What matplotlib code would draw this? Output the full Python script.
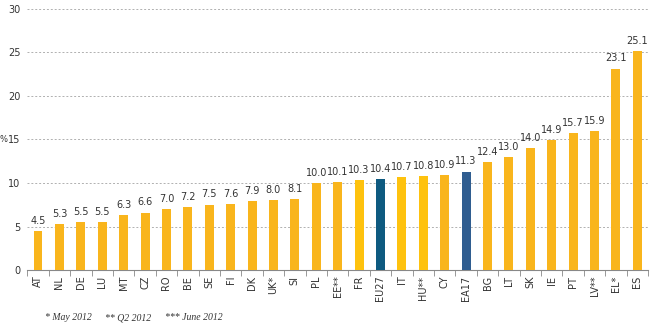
import matplotlib
matplotlib.use("Agg")
import matplotlib.pyplot as plt

countries = ["AT","NL","DE","LU","MT","CZ","RO","BE","SE","FI","DK","UK*","SI","PL","EE**","FR","EU27","IT","HU**","CY","EA17","BG","LT","SK","IE","PT","LV**","EL*","ES"]
values = [4.5,5.3,5.5,5.5,6.3,6.6,7.0,7.2,7.5,7.6,7.9,8.0,8.1,10.0,10.1,10.3,10.4,10.7,10.8,10.9,11.3,12.4,13.0,14.0,14.9,15.7,15.9,23.1,25.1]
yticks = [0,5,10,15,20,25,30]
footnotes = ["* May 2012", "** Q2 2012", "*** June 2012"]

colors = []
for c in countries:
    if c == "EU27":
        colors.append("#0E5A80")
    elif c == "EA17":
        colors.append("#2F5D90")
    elif c in ("FR", "IT", "HU**"):
        colors.append("#FEC20E")
    else:
        colors.append("#F9B51C")

fig = plt.figure(figsize=(6.5, 3.27), dpi=100)
ax = fig.add_axes([0.042, 0.174, 0.955, 0.80])
x = list(range(len(countries)))
ax.bar(x, values, width=0.42, color=colors, zorder=3)
for xi, v in zip(x, values):
    ax.text(xi, v + 0.6, f"{v:.1f}", ha="center", va="bottom", fontsize=7, color="#333333")

ax.set_xlim(-0.5, len(countries) - 0.5)
ax.set_ylim(0, 30)
ax.set_yticks(yticks)
ax.tick_params(axis="y", length=0, labelsize=7, pad=5, colors="#333333")
ax.yaxis.grid(True, linestyle=(0, (2, 2)), color="#b0b0b0", linewidth=0.7, zorder=0)
ax.set_xticks(x)
ax.set_xticklabels(countries, rotation=90, fontsize=7, color="#333333")
ax.set_xticks([i - 0.5 for i in range(len(countries) + 1)], minor=True)
ax.tick_params(axis="x", which="major", length=0, pad=4)
ax.tick_params(axis="x", which="minor", length=4, color="#888888")
for s in ["top", "right", "left"]:
    ax.spines[s].set_visible(False)
ax.spines["bottom"].set_color("#888888")
fig.text(0, ax.get_position().y0 + 0.5 * ax.get_position().height, "%", fontsize=6, va="center", ha="left", color="#333333")

fxs = [45, 105, 165]
for fx, t in zip(fxs, footnotes):
    fig.text(fx / 650, 1 - 318 / 327, t, fontsize=7, family="Liberation Serif", style="italic", va="center", ha="left", color="#333333")

fig.savefig("out.png", dpi=100)
